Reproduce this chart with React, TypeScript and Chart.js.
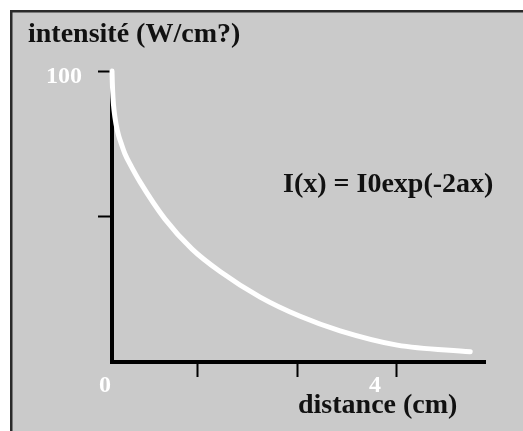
import { useEffect, useRef } from "react";
import { Chart, registerables } from "chart.js";

Chart.register(...registerables);

// ---- data ----
const distanceCm = [0, 0.0042, 0.0141, 0.0282, 0.0563, 0.0915, 0.127, 0.183, 0.254, 0.394, 0.746, 1.127, 1.521, 2.085, 2.648, 3.211, 4.014, 5.042];
const intensity = [100, 96.2, 90.7, 86.6, 81.8, 78.0, 75.3, 71.5, 68.0, 61.9, 49.1, 38.8, 31.1, 22.3, 15.7, 10.7, 5.8, 3.5];
const xTickValues = [1.21, 2.61, 4];
const yTickValues = [50, 100];
const xTickLabels = [
  { value: 0, text: "0" },
  { value: 3.8, text: "4" },
];
const yTickLabels = [{ value: 100, text: "100" }];
const yAxisTitle = "intensité (W/cm?)";
const xAxisTitle = "distance (cm)";
const formulaText = "I(x) = I0exp(-2ax)";

const W = 523;
const H = 431;
const SERIF = '"Liberation Serif", "Times New Roman", serif';

const decorPlugin = {
  id: "decor",
  beforeDraw(chart: any) {
    const ctx = chart.ctx;
    ctx.save();
    ctx.fillStyle = "#ffffff";
    ctx.fillRect(0, 0, W, H);
    ctx.fillStyle = "#cacaca";
    ctx.fillRect(12, 12, W - 12, H - 12);
    ctx.fillStyle = "#2a2a2a";
    ctx.fillRect(10, 10, W - 10, 2.5);
    ctx.fillRect(10, 10, 2.5, H - 10);
    ctx.restore();
  },
  afterDraw(chart: any) {
    const ctx = chart.ctx;
    const xs = chart.scales.x;
    const ys = chart.scales.y;
    const area = chart.chartArea;
    ctx.save();
    ctx.fillStyle = "#111111";
    ctx.font = `bold 28px ${SERIF}`;
    ctx.textAlign = "left";
    ctx.textBaseline = "alphabetic";
    ctx.fillText(yAxisTitle, 28, 42);
    ctx.fillText(xAxisTitle, 298, 413);
    ctx.fillText(formulaText, 283, 192);
    ctx.fillStyle = "#ffffff";
    ctx.font = `bold 24px ${SERIF}`;
    ctx.textAlign = "right";
    for (const l of yTickLabels) {
      ctx.fillText(l.text, area.left - 30, ys.getPixelForValue(l.value) + 12);
    }
    for (const l of xTickLabels) {
      ctx.fillText(l.text, xs.getPixelForValue(l.value) - 1, area.bottom + 30);
    }
    ctx.restore();
  },
};

export default function App() {
  const ref = useRef<HTMLCanvasElement | null>(null);
  useEffect(() => {
    if (!ref.current) return;
    const chart = new Chart(ref.current, {
      type: "line",
      data: {
        datasets: [
          {
            data: distanceCm.map((x, i) => ({ x, y: intensity[i] })),
            borderColor: "#ffffff",
            borderWidth: 5,
            borderCapStyle: "round",
            borderJoinStyle: "round",
            pointRadius: 0,
            fill: false,
            cubicInterpolationMode: "monotone",
            clip: false as any,
          },
        ],
      },
      options: {
        animation: false,
        responsive: false,
        events: [],
        layout: { padding: { left: 0, top: 71, right: W - 485, bottom: 0 } },
        plugins: {
          legend: { display: false },
          tooltip: { enabled: false },
          title: { display: false },
        },
        scales: {
          x: {
            type: "linear",
            min: 0,
            max: 5.25,
            afterBuildTicks: (s: any) => {
              s.ticks = xTickValues.map((v) => ({ value: v }));
            },
            afterFit: (s: any) => {
              s.height = H - 362;
            },
            ticks: { display: false },
            grid: {
              drawOnChartArea: false,
              drawTicks: true,
              tickLength: 15,
              tickWidth: 2,
              color: "#000000",
              tickColor: "#000000",
            },
            border: { display: true, color: "#000000", width: 4 },
          },
          y: {
            type: "linear",
            min: 0,
            max: 100,
            afterBuildTicks: (s: any) => {
              s.ticks = yTickValues.map((v) => ({ value: v }));
            },
            afterFit: (s: any) => {
              s.width = 112;
            },
            ticks: { display: false },
            grid: {
              drawOnChartArea: false,
              drawTicks: true,
              tickLength: 14,
              tickWidth: 2,
              color: "#000000",
              tickColor: "#000000",
            },
            border: { display: true, color: "#000000", width: 4 },
          },
        },
      },
      plugins: [decorPlugin],
    } as any);
    return () => chart.destroy();
  }, []);
  return (
    <div style={{ position: "fixed", left: 0, top: 0, width: W, height: H }}>
      <canvas ref={ref} width={W} height={H} style={{ display: "block", width: W, height: H }} />
    </div>
  );
}
